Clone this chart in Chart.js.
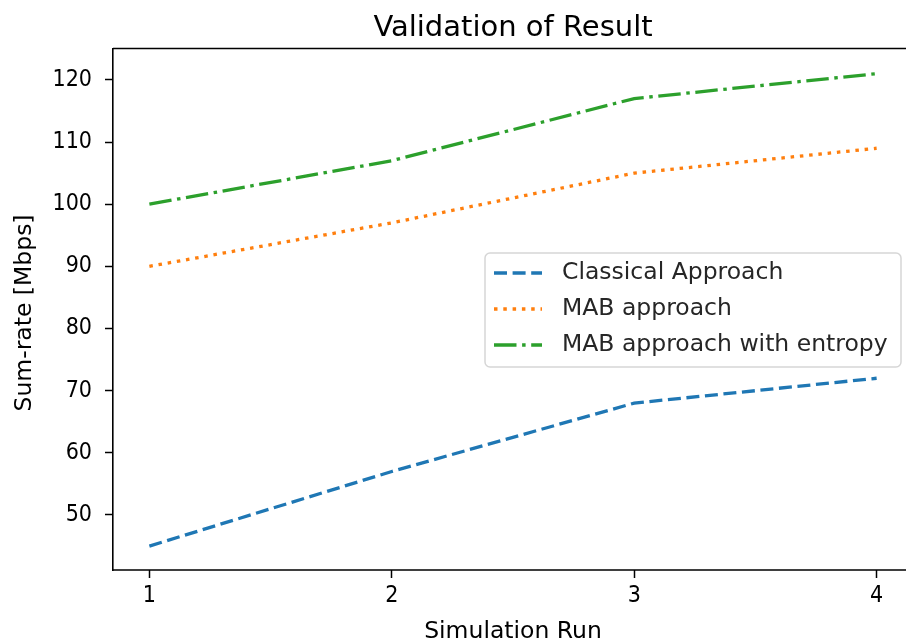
<!DOCTYPE html>
<html>
<head>
<meta charset="utf-8">
<script src="https://cdn.jsdelivr.net/npm/chart.js@4.4.1/dist/chart.umd.min.js"></script>
<style>
    html, body { margin: 0; padding: 0; background: #fff; overflow: hidden; }
    canvas { display: block; }
</style>
</head>
<body>
<canvas id="rateChart" width="906" height="643"></canvas>
<script>
const runs = [1, 2, 3, 4];
const classical = [45, 57, 68, 72];
const mab = [90, 97, 105, 109];
const mabEntropy = [100, 107, 117, 121];
const xTicks = [1, 2, 3, 4];
const yTicks = [50, 60, 70, 80, 90, 100, 110, 120];

const TICK_FONT = "'DejaVu Sans Condensed', 'DejaVu Sans', sans-serif";
const FONT = "'DejaVu Sans', sans-serif";
const LW = 3.3;
// full x range of the axes box; the right edge runs past the canvas
const X_MIN = 0.85, X_MAX = 4.15;

function toPoints(values) {
    return runs.map((r, i) => ({ x: r, y: values[i] }));
}

// top and bottom spines, titles and the legend box inside the plot
const framePlugin = {
    id: 'frame',
    afterDraw(chart) {
        const { ctx, chartArea } = chart;
        const xScale = chart.scales.x;
        const midX = xScale.getPixelForValue((X_MIN + X_MAX) / 2);

        ctx.save();
        // keep the clipped right side of the axes box open
        ctx.fillStyle = '#fff';
        ctx.fillRect(chart.width - 4, chartArea.top + 2, 4, chartArea.bottom - chartArea.top - 4);

        ctx.strokeStyle = '#000';
        ctx.lineWidth = 1.6;
        ctx.beginPath();
        ctx.moveTo(chartArea.left, chartArea.top);
        ctx.lineTo(chart.width + 5, chartArea.top);
        ctx.moveTo(chartArea.left - 0.8, chartArea.bottom);
        ctx.lineTo(chart.width + 5, chartArea.bottom);
        ctx.stroke();

        ctx.fillStyle = '#000';
        ctx.textAlign = 'center';
        ctx.textBaseline = 'alphabetic';
        ctx.font = '29px ' + FONT;
        ctx.fillText('Validation of Result', midX, 36);

        ctx.font = '23.5px ' + FONT;
        ctx.fillText('Simulation Run', midX, 638);

        ctx.save();
        ctx.translate(31, 313);
        ctx.rotate(-Math.PI / 2);
        ctx.fillText('Sum-rate [Mbps]', 0, 0);
        ctx.restore();

        // legend
        const x0 = 485, y0 = 253, w = 416, h = 114, r = 5;
        ctx.fillStyle = 'rgba(255,255,255,0.85)';
        ctx.strokeStyle = '#d6d6d6';
        ctx.lineWidth = 1.5;
        ctx.beginPath();
        ctx.roundRect(x0, y0, w, h, r);
        ctx.fill();
        ctx.stroke();

        ctx.font = '23.5px ' + FONT;
        ctx.textAlign = 'left';
        ctx.textBaseline = 'middle';
        ctx.fillStyle = '#262626';
        chart.data.datasets.forEach((ds, i) => {
            const cy = y0 + 20 + i * 36;
            ctx.strokeStyle = ds.borderColor;
            ctx.lineWidth = LW;
            ctx.lineCap = 'butt';
            ctx.setLineDash(ds.borderDash || []);
            ctx.beginPath();
            ctx.moveTo(x0 + 9, cy);
            ctx.lineTo(x0 + 57, cy);
            ctx.stroke();
            ctx.setLineDash([]);
            ctx.fillText(ds.label, x0 + 77, cy);
        });
        ctx.restore();
    }
};

const ctx = document.getElementById('rateChart').getContext('2d');
new Chart(ctx, {
    type: 'line',
    data: {
        datasets: [
            {
                label: 'Classical Approach',
                data: toPoints(classical),
                borderColor: '#1f77b4',
                borderDash: [13, 5.6]
            },
            {
                label: 'MAB approach',
                data: toPoints(mab),
                borderColor: '#ff7f0e',
                borderDash: [3.5, 5.8]
            },
            {
                label: 'MAB approach with entropy',
                data: toPoints(mabEntropy),
                borderColor: '#2ca02c',
                borderDash: [22.5, 5.6, 3.5, 5.6]
            }
        ]
    },
    options: {
        responsive: false,
        animation: false,
        elements: {
            line: { borderWidth: LW, tension: 0, fill: false, borderCapStyle: 'butt' },
            point: { radius: 0 }
        },
        layout: { padding: { left: 0, right: 0, top: 48.5, bottom: 0 } },
        plugins: {
            legend: { display: false },
            tooltip: { enabled: false },
            title: { display: false }
        },
        scales: {
            x: {
                type: 'linear',
                min: X_MIN,
                // the visible part ends at the canvas edge
                max: X_MIN + (X_MAX - X_MIN) * (906 - 113) / (913 - 113),
                afterBuildTicks: scale => { scale.ticks = xTicks.map(v => ({ value: v })); },
                afterFit: scale => { scale.height = 73; },
                grid: { drawOnChartArea: false, color: '#000', tickLength: 8, tickWidth: 1.5 },
                border: { display: false },
                ticks: { color: '#000', font: { family: TICK_FONT, size: 23 }, padding: 4, maxRotation: 0 }
            },
            y: {
                min: 41.15,
                max: 125.05,
                afterBuildTicks: scale => { scale.ticks = yTicks.map(v => ({ value: v })); },
                afterFit: scale => { scale.width = 113; },
                grid: { drawOnChartArea: false, color: '#000', tickLength: 8, tickWidth: 1.5 },
                border: { color: '#000', width: 1.6 },
                ticks: { color: '#000', font: { family: TICK_FONT, size: 23 }, padding: 13 }
            }
        }
    },
    plugins: [framePlugin]
});
</script>
</body>
</html>
